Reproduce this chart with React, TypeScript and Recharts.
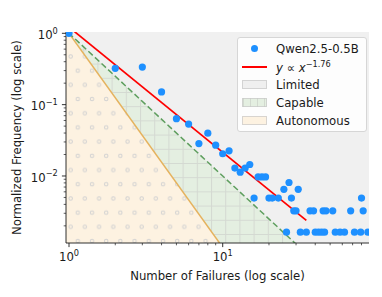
import {
  ComposedChart,
  Scatter,
  Line,
  Area,
  XAxis,
  YAxis,
  CartesianGrid,
  Legend,
} from "recharts";

// observed failure counts and their normalized frequency
const FAILURES = [
  1, 2, 3, 4, 5, 6, 7, 8, 9, 10, 11, 12, 13, 14, 15, 16, 17, 18, 19, 20, 21, 23,
  25, 26, 27, 28, 29, 30, 31, 32, 35, 37, 39, 40, 42, 44, 45, 46, 47, 52, 54, 58,
  62, 68, 72, 79, 80, 82, 88,
];
const FREQUENCY = [
  1.0, 0.323, 0.336, 0.151, 0.0635, 0.0535, 0.0285, 0.0398, 0.027, 0.0205,
  0.0225, 0.0129, 0.0113, 0.0129, 0.0145, 0.0049, 0.0097, 0.0097, 0.0097,
  0.0049, 0.0049, 0.0049, 0.0065, 0.00163, 0.0081, 0.0049, 0.00325, 0.00325,
  0.0065, 0.00163, 0.00163, 0.00325, 0.00325, 0.00163, 0.00163, 0.00163,
  0.00325, 0.00163, 0.00325, 0.00325, 0.00163, 0.00163, 0.00163, 0.00325,
  0.00163, 0.00163, 0.0049, 0.00325, 0.00163,
];

// power-law fit endpoints
const FIT_X = [1, 35];
const FIT_Y = [1.22, 0.00239];

// region boundaries (capable: y = x^-2, autonomous: y = x^-3)
const EDGE_X = [0.9, 30];
const CAPABLE_EDGE = [1.235, 0.00111];
const AUTONOMOUS_EDGE = [1.372, 0.000037];

const X_TICKS = [1, 2, 3, 4, 5, 6, 7, 8, 9, 10, 20, 30, 40, 50, 60, 70, 80];
const Y_TICKS = [
  0.002, 0.003, 0.004, 0.005, 0.006, 0.007, 0.008, 0.009, 0.01, 0.02, 0.03,
  0.04, 0.05, 0.06, 0.07, 0.08, 0.09, 0.1, 0.2, 0.3, 0.4, 0.5, 0.6, 0.7, 0.8,
  0.9, 1,
];

const X_DOMAIN = [0.956, 89.5];
const Y_DOMAIN = [0.00115, 1.043];

const FONT = "DejaVu Sans";
const INK = "#1a1a1a";
const BLUE = "#1e90ff";
const GREEN_EDGE = "#5e9e5e";
const ORANGE_EDGE = "#e5b25d";

const scatterData = FAILURES.map((x, i) => ({ x, y: FREQUENCY[i] }));
const fitData = FIT_X.map((x, i) => ({ x, y: FIT_Y[i] }));
const bandData = EDGE_X.map((x, i) => ({
  x,
  capable: [AUTONOMOUS_EDGE[i], CAPABLE_EDGE[i]],
  capableEdge: CAPABLE_EDGE[i],
  autonomous: AUTONOMOUS_EDGE[i],
}));

const isMajor = (v: number) => {
  const l = Math.log10(v);
  return Math.abs(l - Math.round(l)) < 1e-6;
};
const expText = (v: number) => {
  const e = Math.round(Math.log10(v));
  return e < 0 ? `\u2212${-e}` : `${e}`;
};

function XTick(props: any) {
  const { x, y, payload } = props;
  const major = isMajor(payload.value);
  return (
    <g>
      <line
        x1={x}
        x2={x}
        y1={y}
        y2={y + (major ? 4.1 : 2.3)}
        stroke={INK}
        strokeWidth={major ? 0.9 : 0.7}
      />
      {major && (
        <text x={x} y={y + 18.4} textAnchor="middle" fontSize={11.7} fontFamily={FONT} fill={INK}>
          10
          <tspan dy={-5.5} fontSize={8.2}>
            {expText(payload.value)}
          </tspan>
        </text>
      )}
    </g>
  );
}

function YTick(props: any) {
  const { x, y, payload } = props;
  const major = isMajor(payload.value);
  return (
    <g>
      <line
        x1={x}
        x2={x - (major ? 4.1 : 2.3)}
        y1={y}
        y2={y}
        stroke={INK}
        strokeWidth={major ? 0.9 : 0.7}
      />
      {major && (
        <text x={x - 8.2} y={y + 5.7} textAnchor="end" fontSize={11.7} fontFamily={FONT} fill={INK}>
          10
          <tspan dy={-5.5} fontSize={8.2}>
            {expText(payload.value)}
          </tspan>
        </text>
      )}
    </g>
  );
}

const legendRows = [
  { label: "Qwen2.5-0.5B", kind: "dot" },
  { label: "fit", kind: "line" },
  { label: "Limited", kind: "limited" },
  { label: "Capable", kind: "capable" },
  { label: "Autonomous", kind: "autonomous" },
];

function LegendBox() {
  const patch = (bg: string, extra?: any) => (
    <div
      style={{
        width: 25,
        height: 9,
        background: bg,
        border: "1px solid rgba(200,200,200,0.7)",
        boxSizing: "border-box",
        ...extra,
      }}
    />
  );
  return (
    <div
      style={{
        position: "relative",
        width: 130,
        height: 95,
        boxSizing: "border-box",
        border: "1px solid #d6d6d6",
        borderRadius: 3,
        background: "rgba(255,255,255,0.85)",
        fontFamily: FONT,
        fontSize: 11.7,
        color: INK,
      }}
    >
      {legendRows.map((r, i) => (
        <div
          key={r.kind}
          style={{
            position: "absolute",
            left: 4,
            top: 10.5 + i * 18.1 - 9,
            height: 18,
            display: "flex",
            alignItems: "center",
            whiteSpace: "nowrap",
          }}
        >
          <div style={{ width: 25, display: "flex", justifyContent: "center", alignItems: "center" }}>
            {r.kind === "dot" && (
              <div style={{ width: 7, height: 7, borderRadius: "50%", background: BLUE }} />
            )}
            {r.kind === "line" && <div style={{ width: 25, height: 2, background: "#ff0000" }} />}
            {r.kind === "limited" && patch("#efefef")}
            {r.kind === "capable" &&
              patch("#e4efe1", {
                backgroundImage:
                  "linear-gradient(to right, rgba(205,212,203,0.8) 1px, transparent 1px)",
                backgroundSize: "7px 9px",
              })}
            {r.kind === "autonomous" && patch("#fdf2e1")}
          </div>
          <div style={{ marginLeft: 9 }}>
            {r.kind === "line" ? (
              <span>
                <i>y</i> ∝ <i>x</i>
                <sup style={{ fontSize: 8.2, verticalAlign: 5 }}>−1.76</sup>
              </span>
            ) : (
              r.label
            )}
          </div>
        </div>
      ))}
    </div>
  );
}

export default function App() {
  return (
    <div style={{ position: "absolute", left: 0, top: 0, width: 382, height: 297, background: "#fff" }}>
      <ComposedChart width={382} height={297} margin={{ top: 32, right: 13, bottom: 0, left: 0 }}>
        <defs>
          <pattern id="dotHatch" patternUnits="userSpaceOnUse" x={67.2} y={138.2} width={14.2} height={28.4}>
            <rect width={14.2} height={28.4} fill="#fdf2e1" />
            <circle cx={3.5} cy={3.5} r={1.7} fill="none" stroke="#d2d2d2" strokeWidth={1} />
            <circle cx={10.6} cy={17.7} r={1.7} fill="none" stroke="#d2d2d2" strokeWidth={1} />
          </pattern>
          <pattern id="gridHatch" patternUnits="userSpaceOnUse" x={69} y={63.6} width={14.2} height={14.2}>
            <rect width={14.2} height={14.2} fill="#e4efe1" />
            <path d="M0.5 0 V14.2 M0 0.5 H14.2" stroke="#d4d9d2" strokeWidth={1} />
          </pattern>
        </defs>
        <CartesianGrid horizontal={false} vertical={false} fill="#f0f0f0" fillOpacity={1} />
        <XAxis
          dataKey="x"
          type="number"
          scale="log"
          domain={X_DOMAIN}
          allowDataOverflow
          ticks={X_TICKS}
          interval={0}
          height={54}
          tickSize={0}
          tickMargin={0}
          tickLine={false}
          tick={<XTick />}
          axisLine={{ stroke: INK, strokeWidth: 0.9 }}
          label={{
            content: ({ viewBox }: any) => (
              <text
                x={viewBox.x + viewBox.width / 2}
                y={viewBox.y + 37.3}
                textAnchor="middle"
                fontSize={11.7}
                fontFamily={FONT}
                fill={INK}
              >
                Number of Failures (log scale)
              </text>
            ),
          }}
        />
        <XAxis
          xAxisId="top"
          orientation="top"
          dataKey="x"
          type="number"
          scale="log"
          domain={X_DOMAIN}
          allowDataOverflow
          height={0}
          tick={false}
          tickLine={false}
          axisLine={{ stroke: INK, strokeWidth: 0.9 }}
          label={{
            content: ({ viewBox }: any) => (
              <text
                x={viewBox.x + viewBox.width / 2}
                y={viewBox.y - 7}
                textAnchor="middle"
                fontSize={14}
                fontFamily={FONT}
                fill={INK}
              >
                HumanEval (0-shot)
              </text>
            ),
          }}
        />
        <YAxis
          type="number"
          scale="log"
          domain={Y_DOMAIN}
          allowDataOverflow
          ticks={Y_TICKS}
          interval={0}
          width={66}
          tickSize={0}
          tickMargin={0}
          tickLine={false}
          tick={<YTick />}
          axisLine={{ stroke: INK, strokeWidth: 0.9 }}
          label={{
            content: ({ viewBox }: any) => {
              const cy = viewBox.y + viewBox.height / 2;
              return (
                <text
                  x={20.5}
                  y={cy}
                  transform={`rotate(-90 20.5 ${cy})`}
                  textAnchor="middle"
                  fontSize={11.7}
                  fontFamily={FONT}
                  fill={INK}
                >
                  Normalized Frequency (log scale)
                </text>
              );
            },
          }}
        />
        <YAxis
          yAxisId="right"
          orientation="right"
          type="number"
          scale="log"
          domain={Y_DOMAIN}
          allowDataOverflow
          width={0}
          tick={false}
          tickLine={false}
          axisLine={{ stroke: INK, strokeWidth: 0.9 }}
        />
        <Area
          data={bandData}
          dataKey="autonomous"
          type="linear"
          fill="url(#dotHatch)"
          fillOpacity={1}
          stroke="none"
          isAnimationActive={false}
          legendType="none"
        />
        <Area
          data={bandData}
          dataKey="capable"
          type="linear"
          fill="url(#gridHatch)"
          fillOpacity={1}
          stroke="none"
          isAnimationActive={false}
          legendType="none"
        />
        <Line
          data={bandData}
          dataKey="autonomous"
          type="linear"
          stroke={ORANGE_EDGE}
          strokeWidth={1.5}
          dot={false}
          activeDot={false}
          isAnimationActive={false}
        />
        <Line
          data={bandData}
          dataKey="capableEdge"
          type="linear"
          stroke={GREEN_EDGE}
          strokeWidth={1.5}
          strokeDasharray="6 3"
          dot={false}
          activeDot={false}
          isAnimationActive={false}
        />
        <Scatter
          data={scatterData}
          dataKey="y"
          isAnimationActive={false}
          shape={(p: any) => <circle cx={p.cx} cy={p.cy} r={3.6} fill={BLUE} />}
        />
        <Line
          data={fitData}
          dataKey="y"
          type="linear"
          stroke="#ff0000"
          strokeWidth={1.7}
          dot={false}
          activeDot={false}
          isAnimationActive={false}
        />
        <Legend
          layout="vertical"
          align="center"
          verticalAlign="middle"
          wrapperStyle={{ left: 237, top: 37, width: 130, height: 95 }}
          content={() => <LegendBox />}
        />
      </ComposedChart>
    </div>
  );
}
